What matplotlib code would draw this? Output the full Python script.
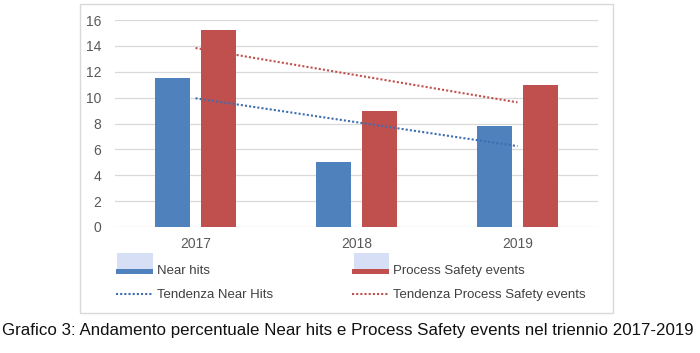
import numpy as np
import matplotlib
matplotlib.use("Agg")
import matplotlib.pyplot as plt
from matplotlib.patches import Rectangle
from matplotlib.legend_handler import HandlerBase
from matplotlib.lines import Line2D

plt.rcParams['font.family'] = ['Liberation Sans', 'DejaVu Sans']

years = ["2017", "2018", "2019"]
near_hits = [11.5, 5.0, 7.8]
process_safety = [15.2, 9.0, 11.0]
y_ticks = [0, 2, 4, 6, 8, 10, 12, 14, 16]
labels = ["Near hits", "Process Safety events", "Tendenza Near Hits", "Tendenza Process Safety events"]
caption = "Grafico 3: Andamento percentuale Near hits e Process Safety events nel triennio 2017-2019"

BLUE = "#4F81BD"
RED = "#C0504D"
TBLUE = "#3E6DB0"
TRED = "#C0504D"
LAV = "#D7DFF6"
GRID = "#D9D9D9"
TXT = "#595959"

fig = plt.figure(figsize=(7.0, 3.53), dpi=100)
W, H = 700, 353
ax = fig.add_axes([115 / W, 1 - 227 / H, (598 - 115) / W, (227 - 20) / H])

x = np.arange(len(years))
bw = 0.22
off = 0.142
ax.bar(x - off, near_hits, bw, color=BLUE, zorder=2)
ax.bar(x + off, process_safety, bw, color=RED, zorder=2)

# linear trend lines
for vals, col in [(near_hits, TBLUE), (process_safety, TRED)]:
    p = np.polyfit(x, vals, 1)
    ax.plot(x[[0, -1]], np.polyval(p, x[[0, -1]]), color=col, lw=1.5,
            linestyle=(0, (1, 1)), zorder=3)

ax.set_xlim(-0.5, 2.5)
ax.set_ylim(0, 16)
ax.set_yticks(y_ticks)
ax.set_xticks(x)
ax.set_xticklabels(years)
ax.tick_params(axis='both', length=0, labelsize=10, colors=TXT)
ax.tick_params(axis='y', pad=10)
ax.tick_params(axis='x', pad=7)
ax.grid(axis='y', color=GRID, lw=0.9, zorder=0)
for s in ax.spines.values():
    s.set_visible(False)
ax.set_axisbelow(True)


class BarHandler(HandlerBase):
    def __init__(self, color):
        super().__init__()
        self.color = color

    def create_artists(self, legend, orig_handle, xdescent, ydescent, width, height, fontsize, trans):
        r_light = Rectangle((-xdescent + 1, -ydescent + 0.4 * height), width - 1, 1.9 * height,
                            facecolor=LAV, edgecolor='none', transform=trans)
        r_bar = Rectangle((-xdescent, -ydescent), width, 0.55 * height,
                          facecolor=self.color, edgecolor='none', transform=trans)
        return [r_light, r_bar]


h_nh = Rectangle((0, 0), 1, 1)
h_ps = Rectangle((0, 0), 1, 1)
h_tnh = Line2D([], [], color=TBLUE, lw=1.5, linestyle=(0, (1, 1)))
h_tps = Line2D([], [], color=TRED, lw=1.5, linestyle=(0, (1, 1)))

leg = fig.legend([h_nh, h_tnh, h_ps, h_tps],
                 [labels[0], labels[2], labels[1], labels[3]],
                 handler_map={h_nh: BarHandler(BLUE), h_ps: BarHandler(RED)},
                 ncol=2, frameon=False, loc='upper left',
                 bbox_to_anchor=(116 / W, 1 - 265 / H),
                 borderpad=0, borderaxespad=0, fontsize=9.5,
                 handlelength=2.8, handletextpad=0.3, columnspacing=6.0,
                 labelspacing=0.9, labelcolor="#404040")

fig.add_artist(Rectangle((80 / W, 1 - 313 / H), (613 - 80) / W, (313 - 4) / H,
                         transform=fig.transFigure, fill=False, edgecolor=GRID, lw=1))

fig.text(2 / W, 1 - 331 / H, caption, fontsize=12.2, color="#111111", va='center', ha='left')

fig.savefig("out.png", dpi=100)
